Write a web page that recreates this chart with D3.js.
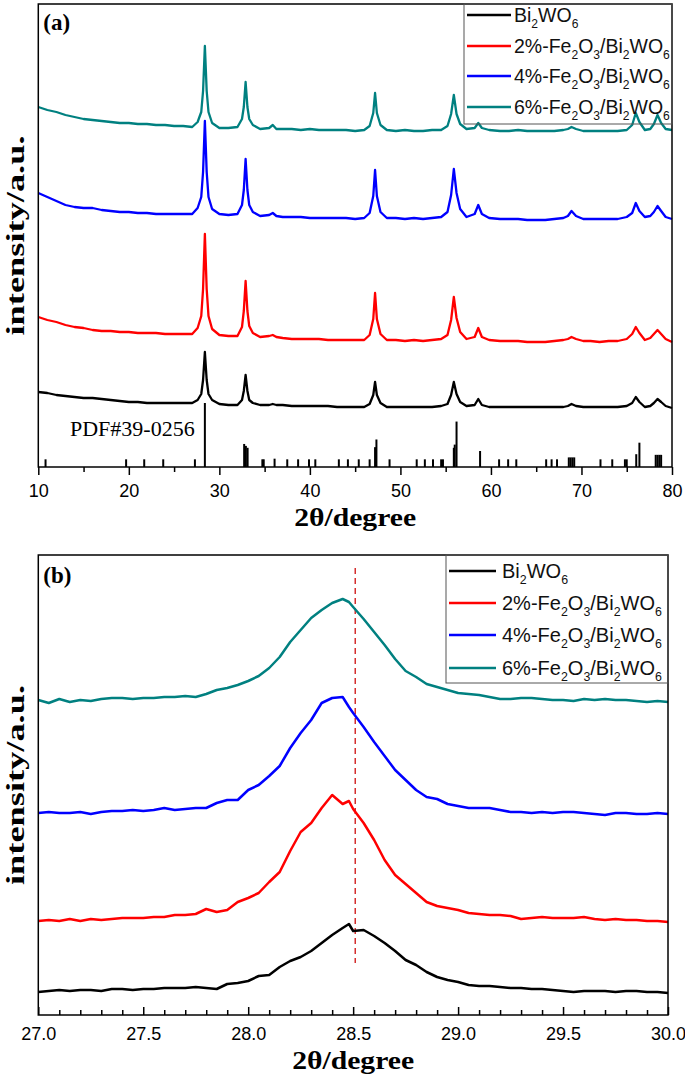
<!DOCTYPE html>
<html><head><meta charset="utf-8">
<script src="https://cdn.jsdelivr.net/npm/d3@7"></script>
<style>body{margin:0;background:#fff}</style>
</head><body><svg id="c" width="685" height="1077"></svg>
<script>
// ---------- Panel (a) data ----------
const twoThetaA = [10,11,12,13,14,15,16,17,18,19,20,21,22,23,24,25,26,27,27.6,28.0,28.2,28.4,28.6,28.8,29.2,30,31,32,32.5,32.7,32.9,33.1,33.3,33.7,34.5,35.5,35.9,36.3,37,38,39,40,41,42,43,44,45,46,46.6,47.0,47.2,47.4,47.8,48.5,49.5,50.5,51.5,52.5,53.5,54.5,55.2,55.6,55.9,56.2,56.6,57.3,58.2,58.6,59.0,59.8,61,62,63,64,65,66,67,68,68.5,68.9,69.4,70.2,71,72,73,74,75,75.6,76.0,76.4,77.0,77.6,78.0,78.4,78.8,79.3,80];
const bi2wo6A = [75,74,72,71,70,69,69,68,67,66, 65,65,64,64,64,64,64,64, 67,73,87,115,87,73,67, 63,62,62, 67,76,92,76,67,64, 62,62,63,62, 62,61,61,61,61,61,60,60,60,60, 63,72,85,72,64, 60,60,60,60,60,60,61, 63,72,85,73,65, 61,62,68,62,60, 60,60,60,60,60,60,60,60, 61,63,61, 60,60,60,60,60,61, 64,70,65,60,61,64,68,65,61,59];
const fe2A = [150,147,145,142,140,139,137,136,136,135, 135,134,134,134,133,133,133,133, 139,151,178,233,178,151,138, 132,131,131, 140,156,186,156,141,134, 130,131,132,130, 129,128,128,128,128,127,127,127,127,127, 132,148,174,148,133, 127,127,126,127,126,127,128, 132,147,170,149,135, 128,130,139,130,127, 126,126,126,125,125,125,126,127, 128,130,128, 126,126,125,126,126,128, 133,140,134,127,129,133,137,133,128,125];
const fe4A = [274,270,266,262,260,259,259,257,256,255, 255,254,254,253,253,253,253,253, 259,270,295,346,295,270,258, 253,252,253, 262,277,308,277,262,255, 251,252,254,251, 250,250,250,249,249,249,249,249,248,249, 254,271,297,271,255, 249,249,248,249,248,249,250, 255,272,298,274,258, 250,253,262,253,249, 248,248,248,247,247,247,248,249, 251,256,251, 248,248,248,248,248,250, 254,264,256,250,251,255,261,256,250,248];
const fe6A = [360,357,355,352,350,348,347,346,345,344, 344,343,343,342,342,341,341,340, 345,355,376,421,376,355,344, 339,339,340, 348,360,385,360,348,342, 338,339,342,338, 338,338,337,338,337,337,337,337,336,337, 341,354,374,354,342, 337,336,337,336,336,337,337, 341,353,372,353,343, 338,339,344,339,337, 336,336,337,336,336,336,336,337, 338,340,338, 336,336,336,336,336,337, 342,354,345,337,338,343,352,344,338,337];
const pdfPos = [10.8,19.7,21.7,23.8,27.3,28.4,32.74,32.93,33.12,34.75,34.9,36.1,37.5,38.7,39.9,40.6,43.2,44.2,45.4,46.6,47.2,47.35,48.8,51.8,52.7,53.6,54.5,54.7,55.9,56.0,56.2,58.8,60.9,61.9,62.8,66.1,66.7,67.3,68.6,68.8,69.0,69.2,72.1,73.4,74.8,75.0,76.05,76.4,78.2,78.4,78.6,78.8];
const pdfInt = [12,12,12,12,12,100,36,33,30,12,12,13,12,12,12,12,12,12,12,12,31,43,12,12,12,12,12,12,30,35,71,25,12,12,12,12,12,12,15,15,15,15,12,12,12,12,20,38,19,19,19,19];
const ticksA = [10,20,30,40,50,60,70,80];
const minorTicksA = [15,25,35,45,55,65,75];

// ---------- Panel (b) data ----------
const twoThetaB = [27.00,27.05,27.10,27.15,27.20,27.25,27.30,27.35,27.40,27.45,27.50,27.55,27.60,27.65,27.70,27.75,27.80,27.85,27.90,27.95,28.00,28.05,28.10,28.15,28.20,28.25,28.30,28.35,28.40,28.45,28.48,28.50,28.55,28.60,28.65,28.70,28.75,28.80,28.85,28.90,28.95,29.00,29.05,29.10,29.15,29.20,29.25,29.30,29.35,29.40,29.45,29.50,29.55,29.60,29.65,29.70,29.75,29.80,29.85,29.90,29.95,30.00];
const bi2wo6B = [23,24,25,24,25,25,24,26,26,25, 26,26,27,27,27,28,27,26,31,32, 34,39,40,48,54,58,64,72,80,87, 91, 84,85,79,72,64,55,50,43,38,35, 33,30,29,29,28,27,27,26,26,25, 24,23,24,24,24,23,24,24,23,23, 22];
const fe2B = [94,95,94,96,94,96,95,96,97,97, 97,98,98,100,100,101,106,103,105,113, 117,122,133,143,164,183,192,207,220,211, 214, 206,192,175,155,140,131,122,113,109,107, 105,102,101,100,100,99,96,97,98,97, 97,97,98,96,95,96,95,95,94,94, 93];
const fe4B = [202,203,202,202,203,201,203,204,204,205, 204,205,207,205,206,207,207,212,215,215, 225,230,239,249,267,282,295,312,317,318, 308, 302,288,273,259,245,235,225,218,216,211, 209,207,207,207,205,203,203,202,203,202, 203,203,202,201,200,202,202,201,201,202, 201];
const fe6B = [315,312,316,313,315,314,316,317,317,316, 317,317,318,318,319,318,321,325,327,330, 334,339,347,358,373,385,397,405,412,416, 413, 408,396,383,370,356,344,338,331,328,325, 322,321,320,318,316,316,317,317,316,315, 315,314,316,315,316,315,315,314,313,314, 313];
const ticksB = [27.0,27.5,28.0,28.5,29.0,29.5,30.0];
const minorTicksB = [27.1,27.2,27.3,27.4,27.6,27.7,27.8,27.9,28.1,28.2,28.3,28.4,28.6,28.7,28.8,28.9,29.1,29.2,29.3,29.4,29.6,29.7,29.8,29.9];
const refLine = 28.51;

const seriesNames = ["Bi_2WO_6","2%-Fe_2O_3/Bi_2WO_6","4%-Fe_2O_3/Bi_2WO_6","6%-Fe_2O_3/Bi_2WO_6"];
const seriesColors = ["#000000","#ff0000","#0000ff","#008080"];

const svg = d3.select("#c");
const serif = "'Liberation Serif','Times New Roman',serif";
const sans = "'Liberation Sans',Arial,sans-serif";

function richText(sel, str, fs) {
  const parts = str.split(/(_.)/).filter(s => s.length);
  let shifted = false;
  parts.forEach(p => {
    const isSub = p[0] === "_";
    const t = sel.append("tspan").text(isSub ? p.slice(1) : p);
    if (isSub) { t.attr("font-size", fs * 0.62); if (!shifted) { t.attr("dy", 6); shifted = true; } }
    else if (shifted) { t.attr("dy", -6); shifted = false; }
  });
}

function drawPanel(o) {
  const g = svg.append("g");
  const x = d3.scaleLinear().domain(o.xDomain).range([o.left, o.right]);
  const y = d3.scaleLinear().domain(o.yDomain).range([o.bottom, o.top]);

  if (o.sticks) {
    const yP = d3.scaleLinear().domain([0, 100]).range([o.bottom, o.bottom - 64]);
    g.append("g").selectAll("line").data(o.sticks.pos).join("line")
      .attr("x1", d => x(d)).attr("x2", d => x(d))
      .attr("y1", yP(0)).attr("y2", (d, i) => yP(o.sticks.int[i]))
      .attr("stroke", "#000").attr("stroke-width", 2);
    g.append("text").attr("x", x(o.sticks.labelX)).attr("y", o.sticks.labelY)
      .attr("font-family", serif).attr("font-size", 22).text("PDF#39-0256");
  }

  if (o.ref !== undefined) {
    g.append("line").attr("x1", x(o.ref)).attr("x2", x(o.ref))
      .attr("y1", o.refTop).attr("y2", o.refBottom)
      .attr("stroke", "#d42f2f").attr("stroke-width", 1.5).attr("stroke-dasharray", "6,4");
  }

  const line = d3.line().x((d, i) => x(o.xs[i])).y(d => y(d));
  o.series.forEach((s, k) => {
    g.append("path").attr("d", line(s)).attr("fill", "none")
      .attr("stroke", seriesColors[k]).attr("stroke-width", o.sw).attr("stroke-linejoin", "round");
  });

  const inward = o.inward;
  const ax = g.append("g").attr("transform", `translate(0,${o.bottom})`)
    .call(d3.axisBottom(x).tickValues(o.ticks).tickSize(inward ? -8 : 8)
      .tickPadding(inward ? 12 : 9).tickFormat(o.fmt));
  ax.select(".domain").remove();
  ax.selectAll("text").attr("font-family", sans).attr("font-size", 18).attr("fill", "#000");
  ax.selectAll("line").attr("stroke-width", 1.5);
  const mx = g.append("g").attr("transform", `translate(0,${o.bottom})`)
    .call(d3.axisBottom(x).tickValues(o.minor).tickSize(inward ? -5 : 5).tickFormat(""));
  mx.select(".domain").remove();
  mx.selectAll("line").attr("stroke-width", 1.5);

  g.append("rect").attr("x", o.left).attr("y", o.top).attr("width", o.right - o.left)
    .attr("height", o.bottom - o.top).attr("fill", "none").attr("stroke", "#000").attr("stroke-width", 1.5);

  const L = o.legend;
  g.append("rect").attr("x", L.x0).attr("y", o.top).attr("width", o.right - L.x0)
    .attr("height", L.y1 - o.top).attr("fill", "none").attr("stroke", "#555").attr("stroke-width", 1);
  seriesNames.forEach((n, k) => {
    const by = L.baselines[k];
    g.append("line").attr("x1", L.lx0).attr("x2", L.lx1).attr("y1", by - 7).attr("y2", by - 7)
      .attr("stroke", seriesColors[k]).attr("stroke-width", 2.5);
    const t = g.append("text").attr("x", L.tx).attr("y", by)
      .attr("font-family", sans).attr("font-size", L.fs).attr("fill", "#111");
    richText(t, n, L.fs);
  });

  g.append("text").attr("x", o.left + 5).attr("y", o.panelLabelY).attr("font-family", serif)
    .attr("font-weight", "bold").attr("font-size", 23).text(o.panelLabel);

  g.append("text").attr("x", (o.left + o.right) / 2).attr("y", o.xTitleY).attr("text-anchor", "middle")
    .attr("font-family", serif).attr("font-weight", "bold").attr("font-size", 25)
    .attr("textLength", 122).attr("lengthAdjust", "spacingAndGlyphs").text("2θ/degree");

  g.append("text").attr("transform", `translate(24,${(o.top + o.bottom) / 2}) rotate(-90)`)
    .attr("text-anchor", "middle").attr("font-family", serif).attr("font-weight", "bold")
    .attr("font-size", 26).attr("textLength", 200).attr("lengthAdjust", "spacingAndGlyphs")
    .text("intensity/a.u.");
}

drawPanel({
  xDomain: [10, 80], yDomain: [0, 463], left: 38.3, right: 672, top: 4, bottom: 467,
  xs: twoThetaA, series: [bi2wo6A, fe2A, fe4A, fe6A], sw: 2.3,
  ticks: ticksA, minor: minorTicksA, fmt: d3.format("d"), inward: false,
  sticks: { pos: pdfPos, int: pdfInt, labelX: 13.5, labelY: 436 },
  legend: { x0: 464, y1: 124, lx0: 467, lx1: 511, tx: 514, fs: 19.5, baselines: [22, 53, 83, 114] },
  panelLabel: "(a)", panelLabelY: 30, xTitleY: 526
});

drawPanel({
  xDomain: [27, 30], yDomain: [0, 460], left: 38.3, right: 668, top: 555, bottom: 1015,
  xs: twoThetaB, series: [bi2wo6B, fe2B, fe4B, fe6B], sw: 2.5,
  ticks: ticksB, minor: minorTicksB, fmt: d3.format(".1f"), inward: true,
  ref: refLine, refTop: 568, refBottom: 963,
  legend: { x0: 446, y1: 683, lx0: 449, lx1: 496, tx: 502, fs: 20, baselines: [578, 610, 642, 675] },
  panelLabel: "(b)", panelLabelY: 583, xTitleY: 1069
});
</script></body></html>
